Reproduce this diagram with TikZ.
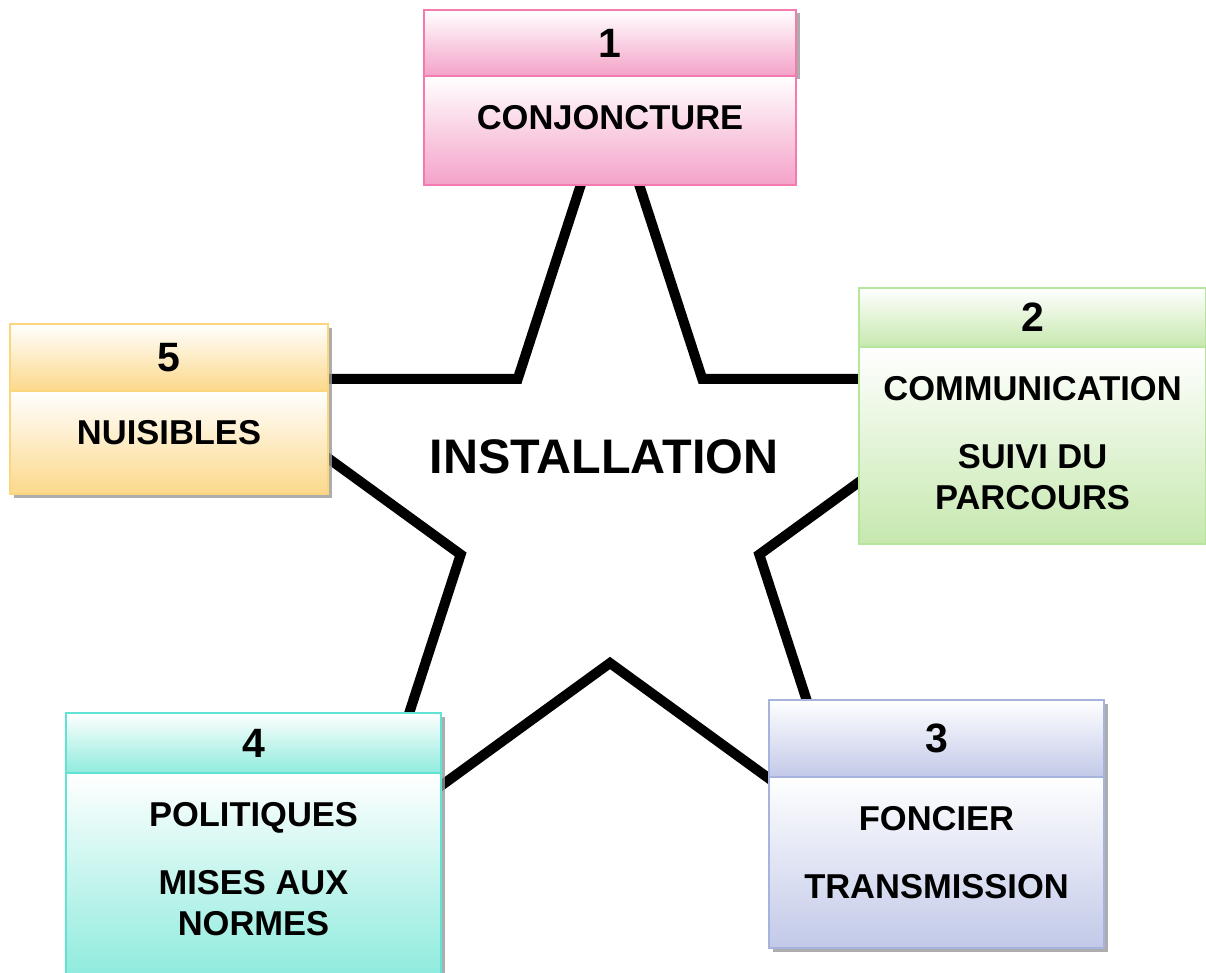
\documentclass[tikz,border=0pt]{standalone}
\usepackage{fontspec}
\setmainfont{Liberation Sans}
\usetikzlibrary{positioning,shadows,backgrounds}
\definecolor{PinkLine}{HTML}{F47AB0}
\definecolor{PinkFill}{HTML}{F4A2C8}
\definecolor{GreenLine}{HTML}{B6E59C}
\definecolor{GreenFill}{HTML}{C6E8AE}
\definecolor{BlueLine}{HTML}{A6B3DE}
\definecolor{BlueFill}{HTML}{C2C9E8}
\definecolor{TealLine}{HTML}{5EE3D4}
\definecolor{TealFill}{HTML}{8FEBDD}
\definecolor{GoldLine}{HTML}{FCD67C}
\definecolor{GoldFill}{HTML}{FCD88A}
\tikzset{
  headbox/.style={draw=#1Line, line width=2.5pt, top color=white, bottom color=#1Fill, outer sep=0pt, inner sep=0pt, font=\fontsize{41}{41}\selectfont\bfseries},
  bodybox/.style={draw=#1Line, line width=2.5pt, top color=white, bottom color=#1Fill, outer sep=0pt, inner sep=0pt},
  bodytext/.style={align=center, inner sep=0pt, font=\fontsize{34.5}{41}\selectfont\bfseries},
  shadowed/.style={drop shadow={shadow xshift=3.5pt, shadow yshift=-3.5pt, fill=black!40, opacity=0.8}},
  starline/.style={line width=10pt, line join=miter, draw=black}
}
\begin{document}
\begin{tikzpicture}[x=1pt, y=-1pt]
  \useasboundingbox (0,0) rectangle (1206,973);
  % 1 : top
  \node[headbox=Pink, shadowed, anchor=north west, minimum width=372pt, minimum height=66pt] (h1) at (424,10) {1};
  \node[bodybox=Pink, below=0pt of h1, minimum width=372pt, minimum height=109pt] (b1) {};
  \node[bodytext, below=29pt of b1.north] (t1) {CONJONCTURE};
  % 2 : right
  \node[headbox=Green, anchor=north west, minimum width=347pt, minimum height=59pt] (h2) at (859,288) {2};
  \node[bodybox=Green, below=0pt of h2, minimum width=347pt, minimum height=197pt] (b2) {};
  \node[bodytext, below=29pt of b2.north] (t2) {COMMUNICATION\\[27pt]SUIVI DU\\PARCOURS};
  % 3 : bottom right
  \node[headbox=Blue, shadowed, anchor=north west, minimum width=335pt, minimum height=77pt] (h3) at (769,700) {3};
  \node[bodybox=Blue, shadowed, below=0pt of h3, minimum width=335pt, minimum height=171pt] (b3) {};
  \node[bodytext, below=29pt of b3.north] (t3) {FONCIER\\[27pt]TRANSMISSION};
  % 4 : bottom left
  \node[headbox=Teal, shadowed, anchor=north west, minimum width=375pt, minimum height=60pt] (h4) at (66,713) {4};
  \node[bodybox=Teal, shadowed, below=0pt of h4, minimum width=375pt, minimum height=202pt] (b4) {};
  \node[bodytext, below=29pt of b4.north] (t4) {POLITIQUES\\[27pt]MISES AUX\\NORMES};
  % 5 : left
  \node[headbox=Gold, shadowed, anchor=north west, minimum width=318pt, minimum height=67pt] (h5) at (10,324) {5};
  \node[bodybox=Gold, shadowed, below=0pt of h5, minimum width=318pt, minimum height=103pt] (b5) {};
  \node[bodytext, below=29pt of b5.north] (t5) {NUISIBLES};

  \node[font=\fontsize{48.5}{48.5}\selectfont\bfseries] (install) at (604,457) {INSTALLATION};

  % the star sits behind the five boxes
  \begin{scope}[on background layer, shift={(610,506)}]
    \draw[starline] (-90:411) \foreach \i in {1,...,9} { -- ({-90+36*\i}:{isodd(\i) ? 157 : 411}) } -- cycle;
  \end{scope}
\end{tikzpicture}
\end{document}
